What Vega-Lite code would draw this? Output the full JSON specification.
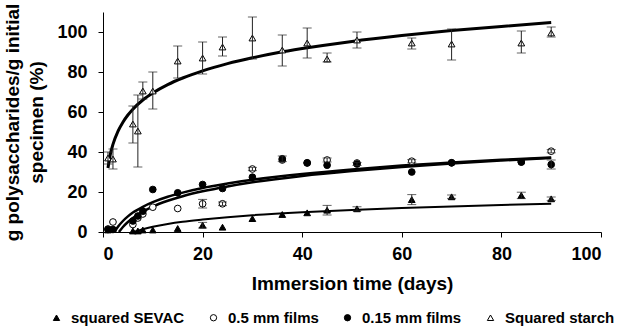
{
  "$schema": "https://vega.github.io/schema/vega-lite/v6.json",
  "autosize": {"type": "none"},
  "width": 498,
  "height": 220,
  "padding": {"left": 103, "top": 12, "right": 19, "bottom": 96},
  "background": "white",
  "config": {
    "view": {"stroke": null},
    "font": "Liberation Sans",
    "axis": {
      "grid": false,
      "domainColor": "black",
      "tickColor": "black",
      "tickSize": 5,
      "labelFont": "Liberation Sans",
      "labelFontSize": 18,
      "labelFontWeight": "bold",
      "labelColor": "black",
      "titleFont": "Liberation Sans",
      "titleFontSize": 19,
      "titleFontWeight": "bold",
      "titleColor": "black"
    },
    "legend": {
      "orient": "none",
      "direction": "horizontal",
      "legendX": -54,
      "legendY": 298,
      "labelFont": "Liberation Sans",
      "labelFontSize": 15,
      "labelFontWeight": "bold",
      "labelColor": "black",
      "symbolSize": 40,
      "symbolStrokeColor": "black",
      "symbolStrokeWidth": 1,
      "columnPadding": 21,
      "labelOffset": 7
    }
  },
  "datasets": {
    "pts": [
      {"series": "Squared starch", "day": 1, "v": 37, "lo": 34, "hi": 40},
      {"series": "Squared starch", "day": 2, "v": 36.5, "lo": 31.5, "hi": 41.5},
      {"series": "Squared starch", "day": 6, "v": 54, "lo": 44.5, "hi": 63},
      {"series": "Squared starch", "day": 7, "v": 50.5, "lo": 32.5, "hi": 68.5},
      {"series": "Squared starch", "day": 8, "v": 70.5, "lo": 66.5, "hi": 75},
      {"series": "Squared starch", "day": 10, "v": 70.5, "lo": 61.5, "hi": 80},
      {"series": "Squared starch", "day": 15, "v": 85.5, "lo": 77, "hi": 93},
      {"series": "Squared starch", "day": 20, "v": 87, "lo": 79, "hi": 95},
      {"series": "Squared starch", "day": 24, "v": 92.5, "lo": 88, "hi": 97.5},
      {"series": "Squared starch", "day": 30, "v": 97, "lo": 86.5, "hi": 107.5},
      {"series": "Squared starch", "day": 36, "v": 91, "lo": 83, "hi": 98.5},
      {"series": "Squared starch", "day": 41, "v": 94.5, "lo": 87, "hi": 102},
      {"series": "Squared starch", "day": 45, "v": 86.5, "lo": 85, "hi": 89.5},
      {"series": "Squared starch", "day": 51, "v": 96, "lo": 92, "hi": 100},
      {"series": "Squared starch", "day": 62, "v": 94.5, "lo": 91.5, "hi": 97},
      {"series": "Squared starch", "day": 70, "v": 94, "lo": 86, "hi": 101.5},
      {"series": "Squared starch", "day": 84, "v": 94.5, "lo": 89.5, "hi": 100.5},
      {"series": "Squared starch", "day": 90, "v": 99.5, "lo": 97.5, "hi": 102.5},

      {"series": "0.5 mm films", "day": 1, "v": 1.5},
      {"series": "0.5 mm films", "day": 2, "v": 5},
      {"series": "0.5 mm films", "day": 6, "v": 3.75},
      {"series": "0.5 mm films", "day": 7, "v": 7},
      {"series": "0.5 mm films", "day": 8, "v": 9},
      {"series": "0.5 mm films", "day": 10, "v": 12.4},
      {"series": "0.5 mm films", "day": 15, "v": 11.75},
      {"series": "0.5 mm films", "day": 20, "v": 14.1, "lo": 12, "hi": 16.3},
      {"series": "0.5 mm films", "day": 24, "v": 14.1, "lo": 13.2, "hi": 15},
      {"series": "0.5 mm films", "day": 30, "v": 31.5, "lo": 30.7, "hi": 32.3},
      {"series": "0.5 mm films", "day": 36, "v": 36},
      {"series": "0.5 mm films", "day": 41, "v": 34.5},
      {"series": "0.5 mm films", "day": 45, "v": 36, "lo": 35, "hi": 37},
      {"series": "0.5 mm films", "day": 51, "v": 34.5},
      {"series": "0.5 mm films", "day": 62, "v": 35.4, "lo": 34.6, "hi": 36.2},
      {"series": "0.5 mm films", "day": 70, "v": 34.6},
      {"series": "0.5 mm films", "day": 84, "v": 35},
      {"series": "0.5 mm films", "day": 90, "v": 40.4, "lo": 39.6, "hi": 41.2},

      {"series": "0.15 mm films", "day": 1, "v": 1.25},
      {"series": "0.15 mm films", "day": 2, "v": 1.25},
      {"series": "0.15 mm films", "day": 6, "v": 5.5},
      {"series": "0.15 mm films", "day": 7, "v": 8},
      {"series": "0.15 mm films", "day": 8, "v": 10.4},
      {"series": "0.15 mm films", "day": 10, "v": 21.25},
      {"series": "0.15 mm films", "day": 15, "v": 19.6},
      {"series": "0.15 mm films", "day": 20, "v": 23.75},
      {"series": "0.15 mm films", "day": 24, "v": 21.75},
      {"series": "0.15 mm films", "day": 30, "v": 27.4},
      {"series": "0.15 mm films", "day": 36, "v": 36.6, "lo": 35.2, "hi": 38},
      {"series": "0.15 mm films", "day": 41, "v": 34.6},
      {"series": "0.15 mm films", "day": 45, "v": 33.4},
      {"series": "0.15 mm films", "day": 51, "v": 34, "lo": 33.2, "hi": 34.8},
      {"series": "0.15 mm films", "day": 62, "v": 30},
      {"series": "0.15 mm films", "day": 70, "v": 34.6},
      {"series": "0.15 mm films", "day": 84, "v": 35},
      {"series": "0.15 mm films", "day": 90, "v": 33.75, "lo": 31.5, "hi": 36},

      {"series": "squared SEVAC", "day": 1, "v": 1},
      {"series": "squared SEVAC", "day": 2, "v": 1.25},
      {"series": "squared SEVAC", "day": 6, "v": 0.5},
      {"series": "squared SEVAC", "day": 7, "v": 0.5},
      {"series": "squared SEVAC", "day": 8, "v": 1},
      {"series": "squared SEVAC", "day": 10, "v": 1},
      {"series": "squared SEVAC", "day": 15, "v": 1.75},
      {"series": "squared SEVAC", "day": 20, "v": 3.4, "lo": 2, "hi": 4.8},
      {"series": "squared SEVAC", "day": 24, "v": 2.4},
      {"series": "squared SEVAC", "day": 30, "v": 6.7},
      {"series": "squared SEVAC", "day": 36, "v": 8.75},
      {"series": "squared SEVAC", "day": 41, "v": 9.6},
      {"series": "squared SEVAC", "day": 45, "v": 10.9, "lo": 8.5, "hi": 13.3},
      {"series": "squared SEVAC", "day": 51, "v": 11.6, "lo": 10.6, "hi": 12.6},
      {"series": "squared SEVAC", "day": 62, "v": 16.2, "lo": 13.7, "hi": 18.7},
      {"series": "squared SEVAC", "day": 70, "v": 17.6, "lo": 16.8, "hi": 18.5},
      {"series": "squared SEVAC", "day": 84, "v": 18.3, "lo": 16.7, "hi": 19.9},
      {"series": "squared SEVAC", "day": 90, "v": 16.6, "lo": 15.8, "hi": 17.5}
    ],
    "curves": [
      {"curve": "starch", "day": 1, "v": 32},
      {"curve": "starch", "day": 1.5, "v": 39.2},
      {"curve": "starch", "day": 2, "v": 43.8},
      {"curve": "starch", "day": 3, "v": 50.3},
      {"curve": "starch", "day": 4, "v": 54.9},
      {"curve": "starch", "day": 5, "v": 58.5},
      {"curve": "starch", "day": 6, "v": 61.4},
      {"curve": "starch", "day": 8, "v": 66},
      {"curve": "starch", "day": 10, "v": 69.5},
      {"curve": "starch", "day": 13, "v": 73.7},
      {"curve": "starch", "day": 16, "v": 77},
      {"curve": "starch", "day": 20, "v": 80.6},
      {"curve": "starch", "day": 25, "v": 84.2},
      {"curve": "starch", "day": 30, "v": 87.1},
      {"curve": "starch", "day": 35, "v": 89.6},
      {"curve": "starch", "day": 40, "v": 91.7},
      {"curve": "starch", "day": 50, "v": 95.3},
      {"curve": "starch", "day": 60, "v": 98.2},
      {"curve": "starch", "day": 70, "v": 100.7},
      {"curve": "starch", "day": 80, "v": 102.8},
      {"curve": "starch", "day": 90, "v": 104.7},

      {"curve": "filmA", "day": 2.3, "v": 0},
      {"curve": "filmA", "day": 3, "v": 2.6},
      {"curve": "filmA", "day": 4, "v": 5.5},
      {"curve": "filmA", "day": 5, "v": 7.8},
      {"curve": "filmA", "day": 6, "v": 9.7},
      {"curve": "filmA", "day": 8, "v": 12.6},
      {"curve": "filmA", "day": 10, "v": 14.9},
      {"curve": "filmA", "day": 13, "v": 17.6},
      {"curve": "filmA", "day": 16, "v": 19.7},
      {"curve": "filmA", "day": 20, "v": 22},
      {"curve": "filmA", "day": 25, "v": 24.2},
      {"curve": "filmA", "day": 30, "v": 26.1},
      {"curve": "filmA", "day": 40, "v": 29},
      {"curve": "filmA", "day": 50, "v": 31.3},
      {"curve": "filmA", "day": 60, "v": 33.2},
      {"curve": "filmA", "day": 70, "v": 34.7},
      {"curve": "filmA", "day": 80, "v": 36.1},
      {"curve": "filmA", "day": 90, "v": 37.3},

      {"curve": "filmB", "day": 3.2, "v": 0},
      {"curve": "filmB", "day": 4, "v": 2.5},
      {"curve": "filmB", "day": 5, "v": 5},
      {"curve": "filmB", "day": 6, "v": 7},
      {"curve": "filmB", "day": 8, "v": 10.2},
      {"curve": "filmB", "day": 10, "v": 12.7},
      {"curve": "filmB", "day": 13, "v": 15.6},
      {"curve": "filmB", "day": 16, "v": 17.9},
      {"curve": "filmB", "day": 20, "v": 20.35},
      {"curve": "filmB", "day": 25, "v": 22.8},
      {"curve": "filmB", "day": 30, "v": 24.85},
      {"curve": "filmB", "day": 40, "v": 28.05},
      {"curve": "filmB", "day": 50, "v": 30.5},
      {"curve": "filmB", "day": 60, "v": 32.55},
      {"curve": "filmB", "day": 70, "v": 34.3},
      {"curve": "filmB", "day": 80, "v": 35.75},
      {"curve": "filmB", "day": 90, "v": 37.05},

      {"curve": "sevac", "day": 6.1, "v": 0},
      {"curve": "sevac", "day": 8, "v": 1.4},
      {"curve": "sevac", "day": 10, "v": 2.6},
      {"curve": "sevac", "day": 13, "v": 4},
      {"curve": "sevac", "day": 16, "v": 5.1},
      {"curve": "sevac", "day": 20, "v": 6.2},
      {"curve": "sevac", "day": 25, "v": 7.4},
      {"curve": "sevac", "day": 30, "v": 8.4},
      {"curve": "sevac", "day": 40, "v": 9.9},
      {"curve": "sevac", "day": 50, "v": 11},
      {"curve": "sevac", "day": 60, "v": 12},
      {"curve": "sevac", "day": 70, "v": 12.8},
      {"curve": "sevac", "day": 80, "v": 13.5},
      {"curve": "sevac", "day": 90, "v": 14.1}
    ]
  },
  "encoding": {
    "x": {
      "type": "quantitative",
      "scale": {"domain": [0, 100], "nice": false, "zero": false},
      "axis": {"values": [0, 20, 40, 60, 80, 100], "title": "Immersion time (days)", "labelPadding": 8, "titleY": 57, "titleBaseline": "alphabetic"}
    },
    "y": {
      "type": "quantitative",
      "scale": {"domain": [0, 110], "nice": false},
      "axis": {"values": [0, 20, 40, 60, 80, 100], "title": ["g polysaccharides/g initial", "specimen (%)"], "labelPadding": 11, "titleX": -85, "titleY": 110, "titleAlign": "center", "titleAngle": -90, "titleBaseline": "alphabetic", "titleLineHeight": 24, "titleFontSize": 19}
    }
  },
  "layer": [
    {
      "data": {"name": "curves"},
      "transform": [{"filter": "datum.curve === 'starch'"}],
      "mark": {"type": "line", "color": "black", "strokeWidth": 3, "interpolate": "monotone"},
      "encoding": {"x": {"field": "day"}, "y": {"field": "v"}}
    },
    {
      "data": {"name": "curves"},
      "transform": [{"filter": "datum.curve === 'filmA' || datum.curve === 'filmB'"}],
      "mark": {"type": "line", "color": "black", "strokeWidth": 2.5, "interpolate": "monotone"},
      "encoding": {"x": {"field": "day"}, "y": {"field": "v"}, "detail": {"field": "curve"}}
    },
    {
      "data": {"name": "curves"},
      "transform": [{"filter": "datum.curve === 'sevac'"}],
      "mark": {"type": "line", "color": "black", "strokeWidth": 2, "interpolate": "monotone"},
      "encoding": {"x": {"field": "day"}, "y": {"field": "v"}}
    },
    {
      "data": {"name": "pts"},
      "mark": {"type": "point", "filled": true, "strokeWidth": 1, "opacity": 1, "size": 45},
      "encoding": {
        "x": {"field": "day"},
        "y": {"field": "v"},
        "shape": {
          "field": "series", "type": "nominal",
          "scale": {"domain": ["squared SEVAC", "0.5 mm films", "0.15 mm films", "Squared starch"], "range": ["triangle-up", "circle", "circle", "triangle-up"]},
          "legend": {"title": null}
        },
        "fill": {
          "field": "series", "type": "nominal",
          "scale": {"domain": ["squared SEVAC", "0.5 mm films", "0.15 mm films", "Squared starch"], "range": ["black", "white", "black", "white"]},
          "legend": {"title": null}
        },
        "stroke": {
          "field": "series", "type": "nominal",
          "scale": {"domain": ["squared SEVAC", "0.5 mm films", "0.15 mm films", "Squared starch"], "range": ["black", "black", "black", "black"]},
          "legend": {"title": null}
        }
      }
    },
    {
      "data": {"name": "pts"},
      "transform": [{"filter": "isValid(datum.hi)"}],
      "mark": {"type": "rule", "color": "#222", "strokeWidth": 1},
      "encoding": {"x": {"field": "day"}, "y": {"field": "lo"}, "y2": {"field": "hi"}}
    },
    {
      "data": {"name": "pts"},
      "transform": [{"filter": "isValid(datum.hi)"}],
      "mark": {"type": "tick", "orient": "horizontal", "color": "#222", "size": 9, "thickness": 1},
      "encoding": {"x": {"field": "day"}, "y": {"field": "hi"}}
    },
    {
      "data": {"name": "pts"},
      "transform": [{"filter": "isValid(datum.hi)"}],
      "mark": {"type": "tick", "orient": "horizontal", "color": "#222", "size": 9, "thickness": 1},
      "encoding": {"x": {"field": "day"}, "y": {"field": "lo"}}
    }
  ]
}
